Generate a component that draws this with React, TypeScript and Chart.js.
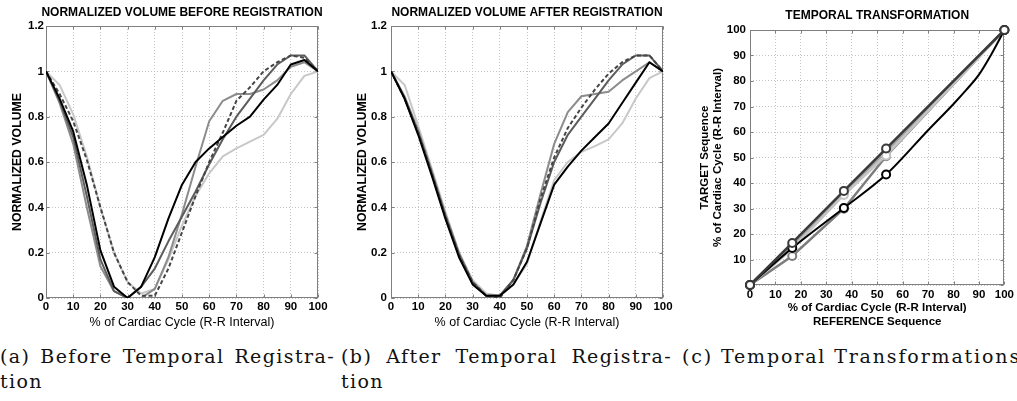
import React, { useEffect, useRef } from "react";
import { Chart, registerables } from "chart.js";

Chart.register(...registerables);

// ---------- DATA ----------
const PHASE = [0, 5, 10, 15, 20, 25, 30, 35, 40, 45, 50, 55, 60, 65, 70, 75, 80, 85, 90, 95, 100];

const BEFORE_BLACK = [1.0, 0.88, 0.735, 0.5, 0.21, 0.05, 0.0, 0.05, 0.18, 0.35, 0.5, 0.6, 0.66, 0.71, 0.76, 0.8, 0.875, 0.94, 1.03, 1.05, 1.0];
const BEFORE_DARK = [1.0, 0.87, 0.71, 0.45, 0.17, 0.03, 0.0, 0.05, 0.13, 0.25, 0.36, 0.47, 0.59, 0.7, 0.8, 0.88, 0.96, 1.03, 1.07, 1.07, 1.0];
const BEFORE_MED = [1.0, 0.86, 0.68, 0.4, 0.14, 0.03, 0.0, 0.0, 0.04, 0.18, 0.37, 0.58, 0.78, 0.87, 0.9, 0.9, 0.92, 0.96, 1.02, 1.04, 1.0];
const BEFORE_DASH = [1.0, 0.9, 0.78, 0.61, 0.4, 0.2, 0.07, 0.01, 0.01, 0.13, 0.29, 0.45, 0.6, 0.73, 0.87, 0.93, 1.0, 1.04, 1.07, 1.06, 1.0];
const BEFORE_LIGHT = [1.0, 0.94, 0.81, 0.625, 0.4, 0.2, 0.07, 0.02, 0.04, 0.17, 0.32, 0.45, 0.55, 0.625, 0.66, 0.69, 0.72, 0.79, 0.9, 0.98, 1.0];

const AFTER_BLACK = [1.0, 0.88, 0.72, 0.54, 0.35, 0.18, 0.06, 0.01, 0.01, 0.06, 0.16, 0.33, 0.5, 0.58, 0.65, 0.71, 0.77, 0.86, 0.95, 1.04, 1.0];
const AFTER_DARK = [1.0, 0.88, 0.73, 0.55, 0.36, 0.19, 0.07, 0.01, 0.01, 0.08, 0.22, 0.42, 0.6, 0.72, 0.8, 0.88, 0.96, 1.03, 1.07, 1.07, 1.0];
const AFTER_MED = [1.0, 0.89, 0.74, 0.56, 0.37, 0.2, 0.07, 0.01, 0.01, 0.08, 0.23, 0.46, 0.68, 0.82, 0.89, 0.9, 0.91, 0.96, 1.0, 1.04, 1.0];
const AFTER_DASH = [1.0, 0.88, 0.73, 0.55, 0.36, 0.19, 0.07, 0.01, 0.0, 0.08, 0.22, 0.44, 0.62, 0.75, 0.84, 0.92, 0.99, 1.04, 1.07, 1.07, 1.0];
const AFTER_LIGHT = [1.0, 0.94, 0.76, 0.57, 0.38, 0.2, 0.08, 0.02, 0.01, 0.06, 0.15, 0.34, 0.52, 0.6, 0.645, 0.67, 0.7, 0.77, 0.88, 0.97, 1.0];

const TT_REF = [0, 16.6, 36.9, 53.5, 100];
const TT_DARK = [0, 16.5, 36.9, 53.5, 100];
const TT_GREY = [0, 15.5, 36.2, 52.3, 100];
const TT_LIGHT = [0, 14.2, 35.3, 50.8, 100];
const TT_MED = [0, 11.4, 29.9, 50.5, 100];
const TT_BLACK_X = [0, 16.6, 36.9, 53.5, 70, 80, 85, 90, 95, 100];
const TT_BLACK_Y = [0, 14.5, 30.2, 43.3, 60.7, 71, 76.5, 82.5, 90.7, 100];
const TT_BLACK_KNOT = [true, true, true, true, false, false, false, false, false, true];

const X_TICKS = [0, 10, 20, 30, 40, 50, 60, 70, 80, 90, 100];
const VOL_TICKS = [0, 0.2, 0.4, 0.6, 0.8, 1, 1.2];

const TITLE_BEFORE = "NORMALIZED VOLUME BEFORE REGISTRATION";
const TITLE_AFTER = "NORMALIZED VOLUME AFTER REGISTRATION";
const TITLE_TT = "TEMPORAL TRANSFORMATION";
const X_LABEL = "% of Cardiac Cycle (R-R Interval)";
const Y_LABEL = "NORMALIZED VOLUME";

// ---------- STYLE ----------
const SANS = "'Liberation Sans', Arial, Helvetica, sans-serif";
const C_BLACK = "#000000";
const C_DARK = "#5c5c5c";
const C_MED = "#8c8c8c";
const C_DASH = "#454545";
const C_LIGHT = "#c8c8c8";

const boxPlugin = {
  id: "matlabBox",
  beforeDatasetsDraw(chart: any) {
    const { ctx, chartArea: a, scales } = chart;
    const l = Math.round(a.left) + 0.5;
    const t = Math.round(a.top) + 0.5;
    const r = Math.round(a.right) - 0.5;
    const b = Math.round(a.bottom) - 0.5;
    ctx.save();
    ctx.strokeStyle = "#7f7f7f";
    ctx.lineWidth = 1;
    ctx.setLineDash([]);
    ctx.strokeRect(l, t, r - l, b - t);
    const tl = 3;
    ctx.beginPath();
    scales.x.ticks.forEach((tk: any) => {
      const px = Math.round(scales.x.getPixelForValue(tk.value)) + 0.5;
      ctx.moveTo(px, b);
      ctx.lineTo(px, b - tl);
      ctx.moveTo(px, t);
      ctx.lineTo(px, t + tl);
    });
    scales.y.ticks.forEach((tk: any) => {
      const py = Math.round(scales.y.getPixelForValue(tk.value)) + 0.5;
      ctx.moveTo(l, py);
      ctx.lineTo(l + tl, py);
      ctx.moveTo(r, py);
      ctx.lineTo(r - tl, py);
    });
    ctx.stroke();
    ctx.restore();
  },
};

// Title centred over the plot area (as MATLAB does)
const plotTitlePlugin = {
  id: "plotTitle",
  afterDraw(chart: any) {
    const o = chart.options.plugins.plotTitle;
    if (!o || !o.text) return;
    const { ctx, chartArea: a } = chart;
    ctx.save();
    ctx.fillStyle = "#000";
    ctx.font = `bold ${o.size}px ${SANS}`;
    ctx.textAlign = "center";
    ctx.textBaseline = "middle";
    ctx.fillText(o.text, (a.left + a.right) / 2, o.y);
    ctx.restore();
  },
};

function tickFont() {
  return { family: SANS, size: 11.5, weight: "bold" as const };
}

function gridOpts() {
  return { color: "#c4c4c4", drawTicks: false, lineWidth: 1 };
}

function volumeConfig(title: string, series: any[], yWidth: number, yTitlePad: number, rightPad: number, yTickPad: number) {
  return {
    type: "line",
    data: {
      datasets: series.map((s) => ({
        data: PHASE.map((x, i) => ({ x, y: s.values[i] })),
        borderColor: s.color,
        borderWidth: 2,
        borderDash: s.dash || [],
        pointRadius: 0,
        tension: 0,
        fill: false,
        borderJoinStyle: "round",
      })),
    },
    options: {
      animation: false,
      responsive: false,
      devicePixelRatio: 1,
      layout: { padding: { left: 0, right: rightPad, top: 26, bottom: 0 } },
      plugins: {
        legend: { display: false },
        tooltip: { enabled: false },
        title: { display: false },
        plotTitle: { text: title, size: 12, y: 13 },
      },
      scales: {
        x: {
          type: "linear",
          min: 0,
          max: 100,
          afterBuildTicks: (s: any) => {
            s.ticks = X_TICKS.map((v) => ({ value: v }));
          },
          afterFit: (s: any) => {
            s.height = 42;
          },
          ticks: { color: "#000", font: tickFont(), padding: 2, maxRotation: 0, autoSkip: false },
          grid: gridOpts(),
          border: { display: false, dash: [1, 2] },
          title: {
            display: true,
            text: X_LABEL,
            color: "#000",
            font: { family: SANS, size: 12.5, weight: "normal" },
            padding: { top: 0, bottom: 9.5 },
          },
        },
        y: {
          type: "linear",
          min: 0,
          max: 1.2,
          afterBuildTicks: (s: any) => {
            s.ticks = VOL_TICKS.map((v) => ({ value: v }));
          },
          afterFit: (s: any) => {
            s.width = yWidth;
          },
          ticks: {
            color: "#000",
            font: tickFont(),
            padding: yTickPad,
            callback: (v: any) => String(Math.round(Number(v) * 10) / 10),
          },
          grid: gridOpts(),
          border: { display: false, dash: [1, 2] },
          title: {
            display: true,
            text: Y_LABEL,
            color: "#000",
            font: { family: SANS, size: 12.3, weight: "bold" },
            padding: { top: yTitlePad, bottom: 0 },
          },
        },
      },
    },
    plugins: [boxPlugin, plotTitlePlugin],
  };
}

function transformConfig() {
  const mk = (vals: number[], color: string) => ({
    data: TT_REF.map((x, i) => ({ x, y: vals[i] })),
    borderColor: color,
    borderWidth: 2.5,
    pointRadius: 4,
    pointBorderWidth: 2,
    pointBorderColor: color,
    pointBackgroundColor: "#ffffff",
    tension: 0,
    fill: false,
    clip: false,
  });
  return {
    type: "line",
    data: {
      datasets: [
        mk(TT_DARK, "#3a3a3a"),
        {
          data: TT_BLACK_X.map((x, i) => ({ x, y: TT_BLACK_Y[i] })),
          borderColor: "#000",
          borderWidth: 2,
          pointRadius: TT_BLACK_KNOT.map((k) => (k ? 4 : 0)),
          pointBorderWidth: 2,
          pointBorderColor: "#000",
          pointBackgroundColor: "#ffffff",
          cubicInterpolationMode: "monotone",
          fill: false,
          clip: false,
        },
        mk(TT_LIGHT, "#c4c4c4"),
        mk(TT_GREY, "#a2a2a2"),
        mk(TT_MED, "#7c7c7c"),
      ],
    },
    options: {
      animation: false,
      responsive: false,
      devicePixelRatio: 1,
      layout: { padding: { left: 0, right: 10, top: 30, bottom: 0 } },
      plugins: {
        legend: { display: false },
        tooltip: { enabled: false },
        title: { display: false },
        plotTitle: { text: TITLE_TT, size: 12, y: 15.5 },
      },
      scales: {
        x: {
          type: "linear",
          min: 0,
          max: 100,
          afterBuildTicks: (s: any) => {
            s.ticks = X_TICKS.map((v) => ({ value: v }));
          },
          afterFit: (s: any) => {
            s.height = 55;
          },
          ticks: { color: "#000", font: tickFont(), padding: 3, maxRotation: 0, autoSkip: false },
          grid: gridOpts(),
          border: { display: false, dash: [1, 2] },
          title: {
            display: true,
            text: [X_LABEL, "REFERENCE Sequence"],
            color: "#000",
            font: { family: SANS, size: 11.5, weight: "bold", lineHeight: 14 / 11.5 },
            padding: { top: 0, bottom: 11 },
          },
        },
        y: {
          type: "linear",
          min: 0,
          max: 100,
          afterBuildTicks: (s: any) => {
            s.ticks = X_TICKS.map((v) => ({ value: v }));
          },
          afterFit: (s: any) => {
            s.width = 70;
          },
          ticks: {
            color: "#000",
            font: tickFont(),
            padding: 4,
            callback: (v: any) => (v === 0 ? "" : String(v)),
          },
          grid: gridOpts(),
          border: { display: false, dash: [1, 2] },
          title: {
            display: true,
            text: ["TARGET Sequence", X_LABEL],
            color: "#000",
            font: { family: SANS, size: 11.5, weight: "bold", lineHeight: 13 / 11.5 },
            padding: { top: 18.5, bottom: 0 },
          },
        },
      },
    },
    plugins: [boxPlugin, plotTitlePlugin],
  };
}

function ChartCanvas({ config, left, width, height }: { config: () => any; left: number; width: number; height: number }) {
  const ref = useRef<HTMLCanvasElement | null>(null);
  useEffect(() => {
    if (!ref.current) return;
    const chart = new Chart(ref.current, config());
    return () => chart.destroy();
  }, []);
  return (
    <canvas
      ref={ref}
      width={width}
      height={height}
      style={{ position: "absolute", left, top: 0, width, height, display: "block" }}
    />
  );
}

const captionFont: React.CSSProperties = {
  position: "absolute",
  fontFamily: "'DejaVu Serif', 'Liberation Serif', serif",
  fontSize: 19,
  lineHeight: "25px",
  color: "#111",
  whiteSpace: "nowrap",
};

export default function App() {
  return (
    <div
      style={{
        position: "fixed",
        left: 0,
        top: 0,
        width: 1017,
        height: 401,
        background: "#fff",
        overflow: "hidden",
      }}
    >
      <ChartCanvas
        left={0}
        width={340}
        height={340}
        config={() =>
          volumeConfig(
            TITLE_BEFORE,
            [
              { values: BEFORE_BLACK, color: C_BLACK },
              { values: BEFORE_DASH, color: C_DASH, dash: [4, 2.5] },
              { values: BEFORE_DARK, color: C_DARK },
              { values: BEFORE_MED, color: C_MED },
              { values: BEFORE_LIGHT, color: C_LIGHT },
            ],
            46,
            10,
            22,
            2
          )
        }
      />
      <ChartCanvas
        left={340}
        width={340}
        height={340}
        config={() =>
          volumeConfig(
            TITLE_AFTER,
            [
              { values: AFTER_BLACK, color: C_BLACK },
              { values: AFTER_DASH, color: C_DASH, dash: [4, 2.5] },
              { values: AFTER_DARK, color: C_DARK },
              { values: AFTER_MED, color: C_MED },
              { values: AFTER_LIGHT, color: C_LIGHT },
            ],
            51,
            15,
            17,
            4
          )
        }
      />
      <ChartCanvas left={680} width={337} height={340} config={transformConfig} />

      <div style={{ ...captionFont, left: 0, top: 344, width: 335, letterSpacing: 1.4, textAlign: "justify", textAlignLast: "justify" as any }}>
        (a) Before Temporal Registra-
      </div>
      <div style={{ ...captionFont, left: 0, top: 369, letterSpacing: 1.4 }}>tion</div>
      <div style={{ ...captionFont, left: 341, top: 344, width: 331, letterSpacing: 1.4, textAlign: "justify", textAlignLast: "justify" as any }}>
        (b) After Temporal Registra-
      </div>
      <div style={{ ...captionFont, left: 341, top: 369, letterSpacing: 1.4 }}>tion</div>
      <div style={{ ...captionFont, left: 682, top: 344, letterSpacing: 1.85 }}>(c) Temporal Transformations</div>
    </div>
  );
}
